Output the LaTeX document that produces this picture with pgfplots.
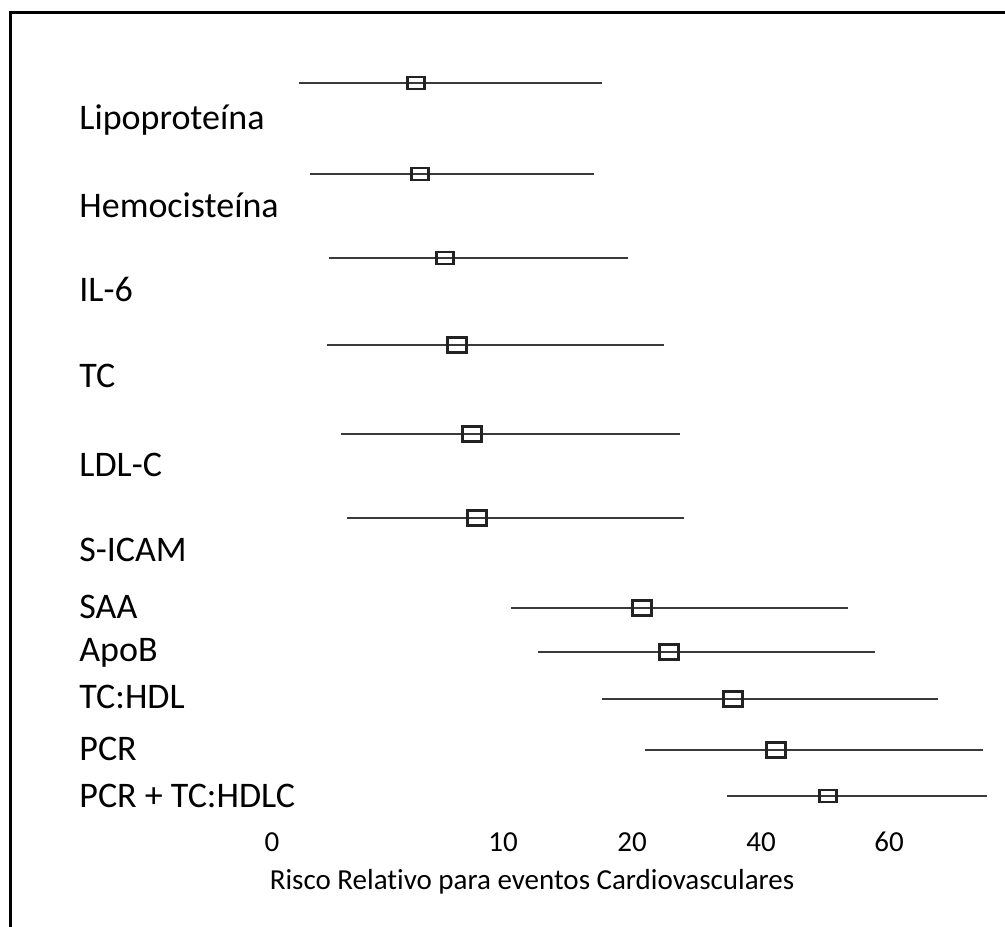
\documentclass[border=0pt]{standalone}
\usepackage{fontspec}
\setmainfont{Carlito}[Ligatures=NoCommon]
\usepackage{pgfplots}
\pgfplotsset{compat=1.18}
\usepackage{pgfplotstable}
% y = row position (px from top), c = estimate, lo/hi = interval ends (px along the drawn scale)
\pgfplotstableread{
y c lo hi
83 416 299 602
174 420 310 594
258 445 329 628
796 828 727 987
}\smallbox
\pgfplotstableread{
y c lo hi
345 457 327 664
434 472 341 680
518 477 347 684
608 642 511 848
652 669 538 875
699 733 602 938
750 776 645 983
}\bigbox
\definecolor{whisk}{HTML}{3A3A3A}
\definecolor{boxc}{HTML}{222222}
\begin{document}
\begin{tikzpicture}
\begin{axis}[
  scale only axis, width=502.5pt, height=463pt,
  xmin=0, xmax=1005, ymin=0, ymax=926, y dir=reverse,
  axis line style={draw=none}, major tick length=0pt,
  clip=false,
  xtick={272,503,632,761,889}, xticklabels={0,10,20,40,60},
  xticklabel style={anchor=base, yshift=37.5pt, inner sep=0pt,
    font=\fontsize{14.5}{17}\selectfont},
  ytick={129,217,301,387,476,561,618,661,708,760,807},
  yticklabels={Lipoproteína,Hemocisteína,IL-6,TC,LDL-C,S-ICAM,SAA,ApoB,TC:HDL,PCR,PCR + TC:HDLC},
  yticklabel style={anchor=base west, xshift=39.5pt, inner sep=0pt,
    font=\fontsize{18}{22}\selectfont},
  xlabel={Risco Relativo para eventos Cardiovasculares},
  xlabel style={at={(axis description cs:0.5294,0.0389)}, anchor=base, inner sep=0pt,
    font=\fontsize{14.5}{17}\selectfont},
]
\addplot[black, line width=1.2pt, line join=miter] coordinates {(10.5,940) (10.5,12.5) (1020,12.5)};
\addplot[only marks, mark=square, mark size=3.75pt,
  mark options={xscale=1.27, draw=boxc, line width=1.3pt},
  error bars/.cd, x dir=both, x explicit, error mark=none,
  error bar style={line width=1.3pt, whisk}]
  table[x=c, y=y, x error plus expr=\thisrow{hi}-\thisrow{c}, x error minus expr=\thisrow{c}-\thisrow{lo}] {\bigbox};
\addplot[only marks, mark=square, mark size=3pt,
  mark options={xscale=1.42, draw=boxc, line width=1.3pt},
  error bars/.cd, x dir=both, x explicit, error mark=none,
  error bar style={line width=1.3pt, whisk}]
  table[x=c, y=y, x error plus expr=\thisrow{hi}-\thisrow{c}, x error minus expr=\thisrow{c}-\thisrow{lo}] {\smallbox};
\end{axis}
\pgfresetboundingbox
\path[use as bounding box] (current axis.south west) rectangle (current axis.north east);
\end{tikzpicture}
\end{document}
